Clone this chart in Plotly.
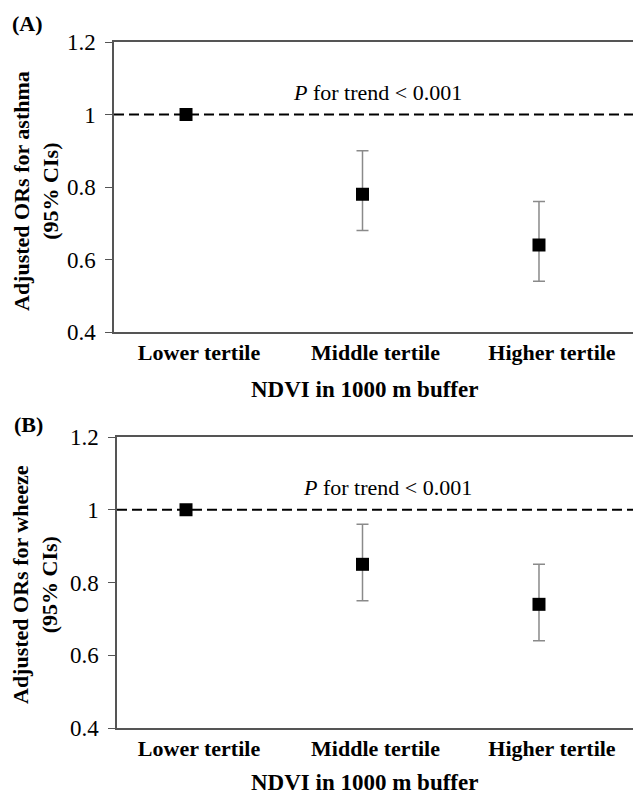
import plotly.graph_objects as go

categories = ["Lower tertile", "Middle tertile", "Higher tertile"]
x_pos = [0, 1, 2]

asthma_or = [1.00, 0.78, 0.64]
asthma_upper = [1.00, 0.90, 0.76]
asthma_lower = [1.00, 0.68, 0.54]

wheeze_or = [1.00, 0.85, 0.74]
wheeze_upper = [1.00, 0.96, 0.85]
wheeze_lower = [1.00, 0.75, 0.64]

y_ticks = [0.4, 0.6, 0.8, 1.0, 1.2]
y_ticklabels = ["0.4", "0.6", "0.8", "1", "1.2"]
ref_value = 1.0

# the page places the figure 8 px in from the top-left corner
OFF = 8
W, H = 641 - OFF, 797 - OFF
FONT = "Liberation Serif, Times New Roman, serif"


def px(x, y):
    return (x - OFF) / W, 1 - (y - OFF) / H


fig = go.Figure()

panels = [
    dict(vals=asthma_or, up=asthma_upper, lo=asthma_lower, xa="x", ya="y"),
    dict(vals=wheeze_or, up=wheeze_upper, lo=wheeze_lower, xa="x2", ya="y2"),
]
for p in panels:
    fig.add_trace(go.Scatter(
        x=x_pos, y=p["vals"], mode="markers",
        marker=dict(symbol="square", size=13, color="black"),
        error_y=dict(type="data", symmetric=False,
                     array=[u - v for u, v in zip(p["up"], p["vals"])],
                     arrayminus=[v - l for v, l in zip(p["vals"], p["lo"])],
                     color="#8a8a8a", thickness=1.5, width=6),
        xaxis=p["xa"], yaxis=p["ya"], showlegend=False, cliponaxis=False,
    ))
    fig.add_shape(type="line", xref=f"{p['xa']} domain", yref=p["ya"],
                  x0=0, x1=1, y0=ref_value, y1=ref_value,
                  line=dict(color="black", width=2, dash="10px,5px"))

xcommon = dict(tickvals=x_pos, ticktext=[f"<b>{c}</b>" for c in categories],
               showgrid=False, zeroline=False, automargin=False,
               showline=True, mirror=True, linecolor="#555", linewidth=1.5,
               ticks="", ticklabelshift=13, ticklabelstandoff=0,
               tickfont=dict(family=FONT, size=22, color="black"))
ycommon = dict(tickvals=y_ticks, ticktext=y_ticklabels, range=[0.4, 1.2],
               showgrid=False, zeroline=False, showline=True, linecolor="#555",
               automargin=False, ticklabelstandoff=5,
               linewidth=1.5, ticks="outside", ticklen=7, tickcolor="#555",
               tickfont=dict(family=FONT, size=23, color="black"))

yA0, yA1 = px(0, 332)[1], px(0, 42)[1]
yB0, yB1 = px(0, 728)[1], px(0, 437)[1]

fig.update_layout(
    template="none",
    width=W, height=H, margin=dict(l=0, r=0, t=0, b=0, pad=0, autoexpand=False),
    paper_bgcolor="white", plot_bgcolor="white",
    xaxis=dict(xcommon, domain=[px(114, 0)[0], 1], range=[-0.408, 2.578], anchor="y"),
    yaxis=dict(ycommon, domain=[yA0, yA1], anchor="x"),
    xaxis2=dict(xcommon, domain=[px(117, 0)[0], 1], range=[-0.391, 2.578], anchor="y2"),
    yaxis2=dict(ycommon, domain=[yB0, yB1], anchor="x2"),
)

bold = dict(family=FONT, size=22, color="black")
title_font = dict(family=FONT, size=23, color="black")
reg = dict(family=FONT, size=22, color="black")
annots = [
    ("<b>(A)</b>", 27, 24, bold, 0),
    ("<b>(B)</b>", 28, 424, bold, 0),
    ("<i>P</i> for trend < 0.001", 377, 93, reg, 0),
    ("<i>P</i> for trend < 0.001", 387, 487, reg, 0),
    ("<b>NDVI in 1000 m buffer</b>", 364, 389, title_font, 0),
    ("<b>NDVI in 1000 m buffer</b>", 364, 782, title_font, 0),
    ("<b>Adjusted ORs for asthma<br>(95% CIs)</b>", 36, 191, bold, -90),
    ("<b>Adjusted ORs for wheeze<br>(95% CIs)</b>", 35, 585, bold, -90),
]
for text, x, y, font, ang in annots:
    ax, ay = px(x, y)
    fig.add_annotation(text=text, x=ax, y=ay, xref="paper", yref="paper",
                       showarrow=False, font=font, textangle=ang,
                       xanchor="center", yanchor="middle")

fig.write_html("out.html")
